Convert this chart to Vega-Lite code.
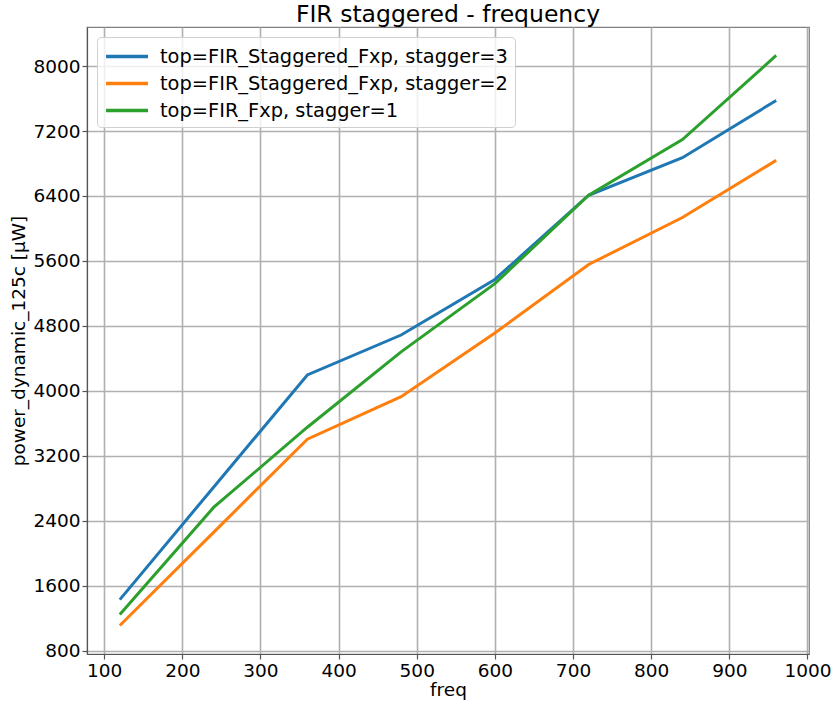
{
  "$schema": "https://vega.github.io/schema/vega-lite/v6.json",
  "width": 722,
  "height": 627,
  "autosize": {"type": "none"},
  "padding": {"left": 87, "top": 27, "right": 25, "bottom": 50},
  "background": "white",
  "config": {
    "font": "DejaVu Sans",
    "view": {"stroke": "#7f7f7f", "strokeWidth": 1.2},
    "axis": {
      "labelFont": "DejaVu Sans",
      "titleFont": "DejaVu Sans",
      "labelFontSize": 18.5,
      "titleFontSize": 18.5,
      "labelColor": "black",
      "titleColor": "black",
      "titleFontWeight": "normal",
      "gridColor": "#b0b0b0",
      "gridWidth": 1.6,
      "gridOpacity": 1,
      "domainColor": "#555555",
      "domainWidth": 1.2,
      "tickColor": "#555555",
      "tickSize": 5,
      "tickWidth": 1.2,
      "labelPadding": 2,
      "format": "d"
    }
  },
  "title": {
    "text": "FIR staggered - frequency",
    "font": "DejaVu Sans",
    "fontSize": 23.5,
    "fontWeight": "normal",
    "color": "black",
    "anchor": "middle",
    "offset": 1
  },
  "data": {
    "values": [
      {"freq": 120, "power": 1427, "series": "top=FIR_Staggered_Fxp, stagger=3"},
      {"freq": 240, "power": 2812, "series": "top=FIR_Staggered_Fxp, stagger=3"},
      {"freq": 360, "power": 4195, "series": "top=FIR_Staggered_Fxp, stagger=3"},
      {"freq": 480, "power": 4687, "series": "top=FIR_Staggered_Fxp, stagger=3"},
      {"freq": 600, "power": 5372, "series": "top=FIR_Staggered_Fxp, stagger=3"},
      {"freq": 720, "power": 6409, "series": "top=FIR_Staggered_Fxp, stagger=3"},
      {"freq": 840, "power": 6872, "series": "top=FIR_Staggered_Fxp, stagger=3"},
      {"freq": 960, "power": 7577, "series": "top=FIR_Staggered_Fxp, stagger=3"},
      {"freq": 120, "power": 1108, "series": "top=FIR_Staggered_Fxp, stagger=2"},
      {"freq": 240, "power": 2255, "series": "top=FIR_Staggered_Fxp, stagger=2"},
      {"freq": 360, "power": 3404, "series": "top=FIR_Staggered_Fxp, stagger=2"},
      {"freq": 480, "power": 3928, "series": "top=FIR_Staggered_Fxp, stagger=2"},
      {"freq": 600, "power": 4711, "series": "top=FIR_Staggered_Fxp, stagger=2"},
      {"freq": 720, "power": 5556, "series": "top=FIR_Staggered_Fxp, stagger=2"},
      {"freq": 840, "power": 6135, "series": "top=FIR_Staggered_Fxp, stagger=2"},
      {"freq": 960, "power": 6839, "series": "top=FIR_Staggered_Fxp, stagger=2"},
      {"freq": 120, "power": 1243, "series": "top=FIR_Fxp, stagger=1"},
      {"freq": 240, "power": 2563, "series": "top=FIR_Fxp, stagger=1"},
      {"freq": 360, "power": 3551, "series": "top=FIR_Fxp, stagger=1"},
      {"freq": 480, "power": 4480, "series": "top=FIR_Fxp, stagger=1"},
      {"freq": 600, "power": 5320, "series": "top=FIR_Fxp, stagger=1"},
      {"freq": 720, "power": 6409, "series": "top=FIR_Fxp, stagger=1"},
      {"freq": 840, "power": 7094, "series": "top=FIR_Fxp, stagger=1"},
      {"freq": 960, "power": 8131, "series": "top=FIR_Fxp, stagger=1"}
    ]
  },
  "mark": {"type": "line", "strokeWidth": 3, "clip": true},
  "encoding": {
    "x": {
      "field": "freq",
      "type": "quantitative",
      "scale": {"domain": [78, 1002], "nice": false, "zero": false},
      "axis": {"title": "freq", "values": [100, 200, 300, 400, 500, 600, 700, 800, 900, 1000], "titlePadding": 1}
    },
    "y": {
      "field": "power",
      "type": "quantitative",
      "scale": {"domain": [757, 8482], "nice": false, "zero": false},
      "axis": {"title": "power_dynamic_125c [µW]", "values": [800, 1600, 2400, 3200, 4000, 4800, 5600, 6400, 7200, 8000], "titlePadding": 4}
    },
    "color": {
      "field": "series",
      "type": "nominal",
      "sort": null,
      "scale": {
        "domain": ["top=FIR_Staggered_Fxp, stagger=3", "top=FIR_Staggered_Fxp, stagger=2", "top=FIR_Fxp, stagger=1"],
        "range": ["#1f77b4", "#ff7f0e", "#2ca02c"]
      },
      "legend": {
        "title": null,
        "orient": "none",
        "legendX": 10,
        "legendY": 10,
        "symbolType": "M-1,0H3",
        "symbolStrokeWidth": 3.5,
        "symbolSize": 441,
        "labelFontSize": 19.4,
        "labelFont": "DejaVu Sans",
        "labelColor": "black",
        "labelOffset": 31,
        "labelLimit": 0,
        "rowPadding": 5,
        "padding": 7,
        "fillColor": "rgba(255,255,255,0.8)",
        "strokeColor": "#d0d0d0",
        "cornerRadius": 4
      }
    }
  }
}
